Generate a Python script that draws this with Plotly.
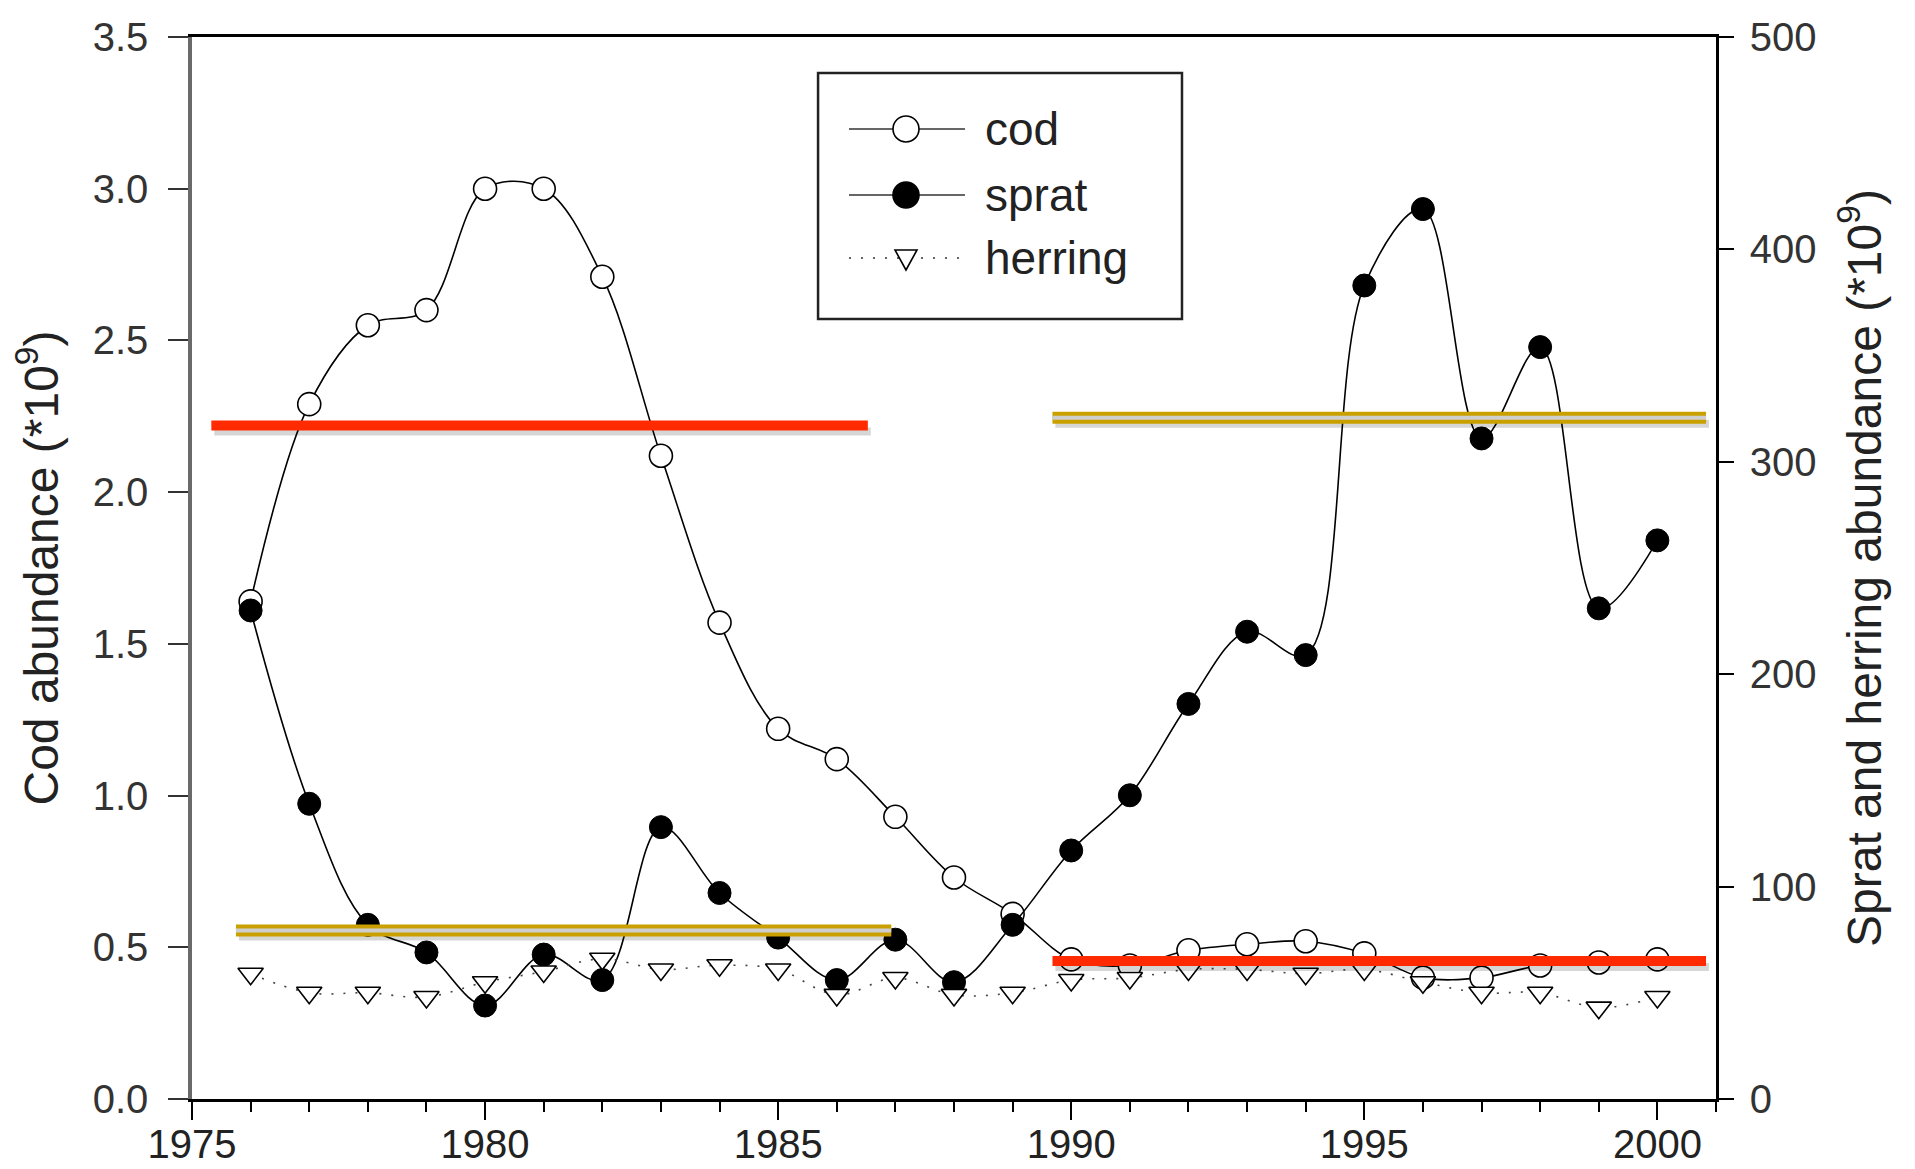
import plotly.graph_objects as go

# ---- data ----
years = list(range(1976, 2001))
cod = [1.64, 2.29, 2.55, 2.60, 3.00, 3.00, 2.71, 2.12, 1.57, 1.22, 1.12, 0.93, 0.73,
       0.61, 0.46, 0.44, 0.49, 0.51, 0.52, 0.48, 0.40, 0.40, 0.44, 0.45, 0.46]
sprat = [230, 139, 82, 69, 44, 68, 56, 128, 97, 76, 56, 75, 55,
         82, 117, 143, 186, 220, 209, 383, 419, 311, 354, 231, 263]
herring = [59, 50, 50, 48, 55, 60, 66, 61, 63, 61, 49, 57, 49,
           50, 56, 57, 61, 61, 59, 61, 55, 50, 50, 43, 48]

# period level lines (in cod-axis units)
red_start = [1975.33, 1989.68]
red_end = [1986.53, 2000.83]
red_level = [2.22, 0.455]
gold_start = [1975.75, 1989.68]
gold_end = [1986.93, 2000.83]
gold_level = [0.555, 2.245]

x_ticks = [1975, 1980, 1985, 1990, 1995, 2000]
legend_names = ["cod", "sprat", "herring"]

FONT = "Liberation Sans, Arial, sans-serif"

fig = go.Figure()

fig.add_trace(go.Scatter(
    x=years, y=cod, name="cod", mode="lines+markers", yaxis="y",
    line=dict(color="black", width=1.6, shape="spline", smoothing=1.0),
    marker=dict(symbol="circle", size=23, color="white",
                line=dict(color="black", width=1.6)),
))
fig.add_trace(go.Scatter(
    x=years, y=sprat, name="sprat", mode="lines+markers", yaxis="y2",
    line=dict(color="black", width=1.6, shape="spline", smoothing=1.0),
    marker=dict(symbol="circle", size=23, color="black",
                line=dict(color="black", width=1)),
))
fig.add_trace(go.Scatter(
    x=years, y=herring, name="herring", mode="lines+markers", yaxis="y2",
    line=dict(color="#444", width=1.6, dash="2px,10px", shape="spline"),
    marker=dict(symbol="triangle-down", size=22, color="white",
                line=dict(color="black", width=1.6)),
))

shapes = []
# soft shadows under the level lines
for x0, x1, lv in list(zip(red_start, red_end, red_level)) + list(zip(gold_start, gold_end, gold_level)):
    shapes.append(dict(type="line", xref="x", yref="y", x0=x0 + 0.05, x1=x1 + 0.05,
                       ysizemode="pixel", yanchor=lv, y0=-6, y1=-6,
                       line=dict(color="rgba(0,0,0,0.16)", width=8), layer="above"))
for x0, x1, lv in zip(red_start, red_end, red_level):
    shapes.append(dict(type="line", xref="x", yref="y", x0=x0, x1=x1, y0=lv, y1=lv,
                       line=dict(color="#ff2a00", width=10), layer="above"))
for x0, x1, lv in zip(gold_start, gold_end, gold_level):
    shapes.append(dict(type="line", xref="x", yref="y", x0=x0, x1=x1, y0=lv, y1=lv,
                       line=dict(color="#c9a000", width=12), layer="above"))
    shapes.append(dict(type="line", xref="x", yref="y", x0=x0, x1=x1, y0=lv, y1=lv,
                       line=dict(color="#cfcfcf", width=4), layer="above"))

# legend box drawn as layout decoration
lx0, lx1, ly0, ly1 = 0.4108, 0.6496, 0.7345, 0.9661
shapes.append(dict(type="rect", xref="paper", yref="paper", x0=lx0, x1=lx1, y0=ly0, y1=ly1,
                   line=dict(color="#222", width=2.5), fillcolor="white", layer="above"))
rows = [0.9134, 0.8512, 0.7919]
sym_x0, sym_x1, sym_c = 0.4311, 0.5072, 0.4685
annotations = []
for nm, ry in zip(legend_names, rows):
    dash = "2px,10px" if nm == "herring" else "solid"
    shapes.append(dict(type="line", xref="paper", yref="paper", x0=sym_x0, x1=sym_x1,
                       y0=ry, y1=ry, line=dict(color="#333", width=1.6, dash=dash), layer="above"))
    if nm == "herring":
        shapes.append(dict(type="path", xref="paper", yref="paper",
                           xsizemode="pixel", ysizemode="pixel", xanchor=sym_c, yanchor=ry,
                           path="M-11,8 L11,8 L0,-12 Z", fillcolor="white",
                           line=dict(color="black", width=1.6), layer="above"))
    else:
        shapes.append(dict(type="circle", xref="paper", yref="paper",
                           xsizemode="pixel", ysizemode="pixel", xanchor=sym_c, yanchor=ry,
                           x0=-13, x1=13, y0=-13, y1=13,
                           fillcolor="white" if nm == "cod" else "black",
                           line=dict(color="black", width=1.6), layer="above"))
    annotations.append(dict(xref="paper", yref="paper", x=0.519, y=ry, text=nm,
                            showarrow=False, xanchor="left", yanchor="middle",
                            font=dict(family=FONT, size=46, color="#222")))

fig.update_layout(
    width=1915, height=1169,
    margin=dict(l=192, r=199, t=37, b=70),
    plot_bgcolor="white", paper_bgcolor="white",
    showlegend=False,
    font=dict(family=FONT, color="#222"),
    shapes=shapes, annotations=annotations,
    xaxis=dict(
        range=[1975, 2001], tickmode="array", tickvals=x_ticks, automargin=False,
        ticks="outside", ticklen=18, tickwidth=2, tickcolor="black",
        showline=True, linecolor="black", linewidth=3, mirror=True,
        showgrid=False, zeroline=False, ticklabelstandoff=-10,
        tickfont=dict(family=FONT, size=40, color="#222"),
        minor=dict(ticks="outside", ticklen=10, tickwidth=1.5, tickcolor="black",
                   dtick=1, tick0=1975, showgrid=False),
    ),
    yaxis=dict(
        range=[0, 3.5], tick0=0, dtick=0.5, tickformat=".1f", automargin=False,
        ticks="outside", ticklen=20, tickwidth=2, tickcolor="#333",
        showline=True, linecolor="#6a6a6a", linewidth=3.5,
        showgrid=False, zeroline=False, ticklabelstandoff=12,
        tickfont=dict(family=FONT, size=40, color="#333"),
        title=dict(text="Cod abundance (*10<sup>9</sup>)", standoff=20,
                   font=dict(family=FONT, size=48, color="#222")),
    ),
    yaxis2=dict(
        range=[0, 500], tick0=0, dtick=100, overlaying="y", side="right", automargin=False,
        ticks="outside", ticklen=15, tickwidth=2, tickcolor="black",
        showline=True, linecolor="black", linewidth=2.5,
        showgrid=False, zeroline=False, ticklabelstandoff=8,
        tickfont=dict(family=FONT, size=40, color="#333"),
        title=dict(text="Sprat and herring abundance (*10<sup>9</sup>)", standoff=32,
                   font=dict(family=FONT, size=48, color="#222")),
    ),
)

fig.write_html("out.html")
